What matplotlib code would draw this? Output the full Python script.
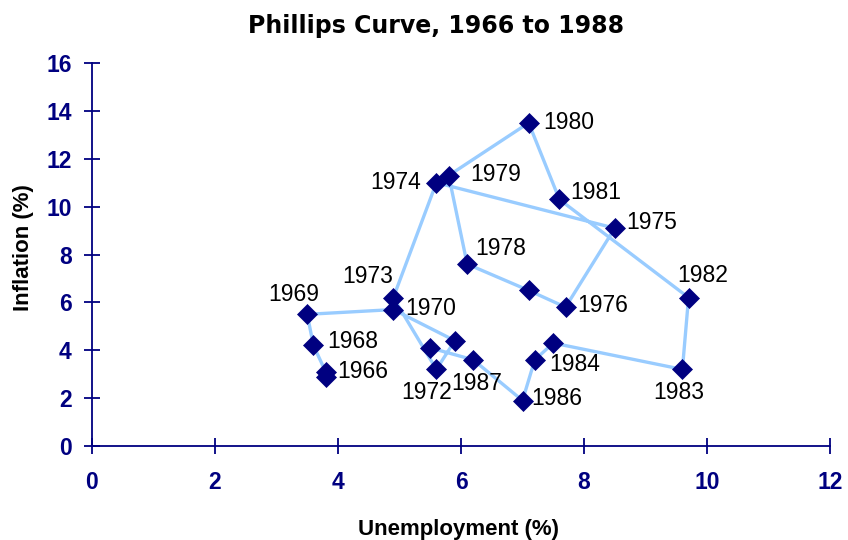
import matplotlib
matplotlib.use("Agg")
import matplotlib.pyplot as plt

years = list(range(1966, 1989))
unemployment = [3.8, 3.8, 3.6, 3.5, 4.9, 5.9, 5.6, 4.9, 5.6, 8.5, 7.7, 7.1,
                6.1, 5.8, 7.1, 7.6, 9.7, 9.6, 7.5, 7.2, 7.0, 6.2, 5.5]
inflation = [2.9, 3.1, 4.2, 5.5, 5.7, 4.4, 3.2, 6.2, 11.0, 9.1, 5.8, 6.5,
             7.6, 11.3, 13.5, 10.3, 6.2, 3.2, 4.3, 3.6, 1.9, 3.6, 4.1]
labelled_years = [1966, 1968, 1969, 1970, 1972, 1973, 1974, 1975, 1976, 1978,
                  1979, 1980, 1981, 1982, 1983, 1984, 1986, 1987]
x_ticks = [0, 2, 4, 6, 8, 10, 12]
y_ticks = [0, 2, 4, 6, 8, 10, 12, 14, 16]

# label placement (offset pixels, ha)
label_pos = {
    1966: (12, 5, 'left'),
    1968: (14, 4, 'left'),
    1969: (-13, 20, 'center'),
    1970: (12, 1, 'left'),
    1972: (-10, -23, 'center'),
    1973: (0, 21, 'right'),
    1974: (-15, 0, 'right'),
    1975: (12, 6, 'left'),
    1976: (12, 2, 'left'),
    1978: (8, 16, 'left'),
    1979: (22, 1, 'left'),
    1980: (15, 0, 'left'),
    1981: (11, 7, 'left'),
    1982: (14, 22, 'center'),
    1983: (-4, -23, 'center'),
    1984: (-4, -21, 'left'),
    1986: (9, 2, 'left'),
    1987: (3, -24, 'center'),
}

W, H = 848, 540
fig = plt.figure(figsize=(W / 100, H / 100), dpi=100)
ax = fig.add_axes([92 / W, 1 - 446 / H, 738 / W, 383 / H])

navy = '#000080'
ax.plot(unemployment, inflation, color='#99CCFF', lw=2.4, zorder=2,
        solid_joinstyle='round')
ax.plot(unemployment, inflation, linestyle='none', marker='D', markersize=10.5,
        markerfacecolor=navy, markeredgecolor=navy, markeredgewidth=0.5,
        zorder=3, clip_on=False)

for yr in labelled_years:
    i = years.index(yr)
    dx, dy, ha = label_pos[yr]
    ax.annotate(str(yr), (unemployment[i], inflation[i]), xytext=(dx, dy),
                textcoords='offset pixels', ha=ha, va='center',
                fontsize=16.5, family='Liberation Sans', color='black', zorder=4)

ax.set_xlim(0, 12)
ax.set_ylim(0, 16)
ax.set_xticks(x_ticks)
ax.set_yticks(y_ticks)
ax.set_xticklabels([str(t) for t in x_ticks])
ax.set_yticklabels([str(t) for t in y_ticks])
for s in ['top', 'right']:
    ax.spines[s].set_visible(False)
for s in ['left', 'bottom']:
    ax.spines[s].set_color(navy)
    ax.spines[s].set_linewidth(1.3)
ax.tick_params(axis='both', direction='inout', length=11.5, width=1.3,
               color=navy, labelcolor=navy, labelsize=16.5)
ax.tick_params(axis='x', pad=12)
ax.tick_params(axis='y', pad=9)
for lab in ax.get_xticklabels() + ax.get_yticklabels():
    lab.set_fontweight('bold')
    lab.set_family('Liberation Sans')

fig.text(436 / W, 1 - 33 / H, 'Phillips Curve, 1966 to 1988', ha='center',
         va='baseline', fontsize=17, fontweight='bold', family='DejaVu Sans')
fig.text(459 / W, 1 - 535 / H, 'Unemployment (%)', ha='center', va='baseline',
         fontsize=16, fontweight='bold', family='Liberation Sans')
fig.text(23 / W, 1 - 248 / H, 'Inflation (%)', ha='center', va='center',
         rotation=90, fontsize=16, fontweight='bold', family='Liberation Sans')

fig.savefig('out.png', dpi=100)
